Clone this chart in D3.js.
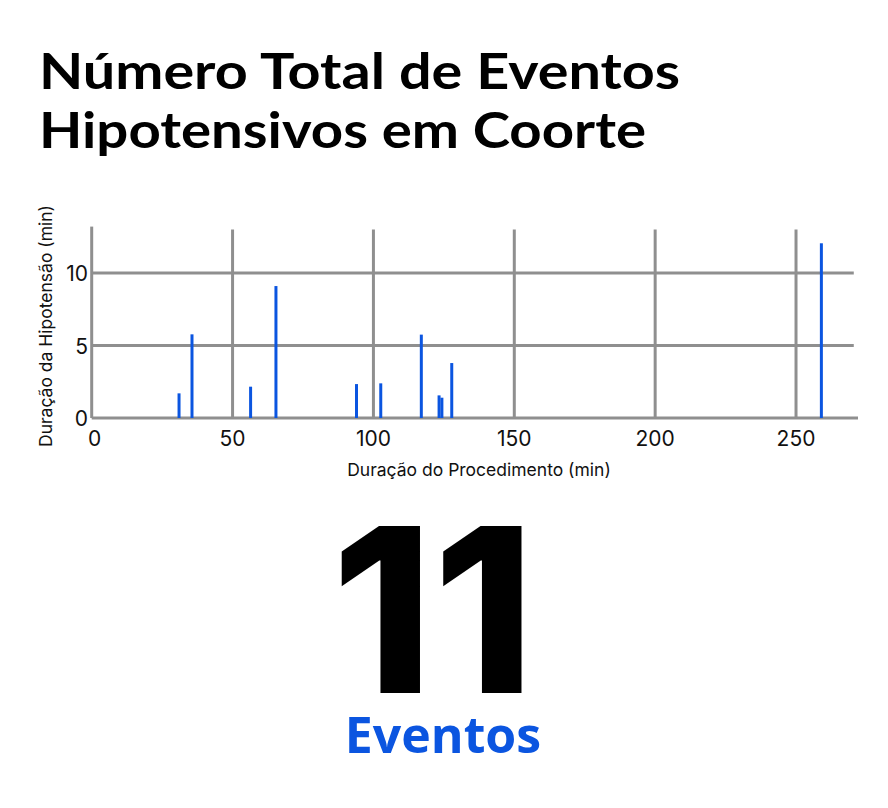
<!DOCTYPE html>
<html>
<head>
<meta charset="utf-8">
<script src="https://cdn.jsdelivr.net/npm/d3@7"></script>
<style>
	body { margin: 0; background: #fff; }
	svg text { font-family: Inter, "Open Sans", sans-serif; }
</style>
</head>
<body>
<div id="chart"></div>
<script>
// procedure duration (min) of each hypotensive event and its duration (min)
const procMinutes = [31, 35.6, 56.4, 65.4, 94, 102.6, 117, 123.3, 124.3, 127.8, 259],
	hypoMinutes = [1.7, 5.77, 2.16, 9.1, 2.34, 2.39, 5.75, 1.56, 1.4, 3.79, 12.05],
	xTicks = [0, 50, 100, 150, 200, 250],
	yTicks = [0, 5, 10],
	titleLines = ["Número Total de Eventos", "Hipotensivos em Coorte"],
	totalLabel = "Eventos";

const W = 888, H = 808;

var svg = d3.select("#chart").append("svg")
	.attr("width", W)
	.attr("height", H);

// title, two lines, stretched to the width seen in the picture
svg.selectAll(".title")
	.data(titleLines)
	.enter()
	.append("text")
	.attr("class", "title")
	.attr("x", 39)
	.attr("y", (d, i) => 89 + i * 59)
	.style("font-family", "Lato, 'Open Sans', sans-serif")
	.style("font-weight", 700)
	.style("font-size", "50px")
	.attr("fill", "#000")
	.text(d => d)
	.attr("textLength", (d, i) => i === 0 ? 641 : 607)
	.attr("lengthAdjust", "spacingAndGlyphs");

var x = d3.scaleLinear().domain([0, 272]).range([91.7, 858]),
	y = d3.scaleLinear().domain([0, 13]).range([418, 229.5]);

var grid = svg.append("g").attr("class", "grid")
	.attr("stroke", "#8f8f8f")
	.attr("stroke-width", 3);

// vertical grid lines (the one at 0 acts as the y axis)
grid.selectAll(".vline")
	.data(xTicks)
	.enter()
	.append("line")
	.attr("x1", d => x(d)).attr("x2", d => x(d))
	.attr("y1", d => d === 0 ? y(13.2) : y(13))
	.attr("y2", y(0));

// horizontal grid lines (the one at 0 acts as the x axis)
grid.selectAll(".hline")
	.data(yTicks)
	.enter()
	.append("line")
	.attr("x1", x(0))
	.attr("x2", d => d === 0 ? x(272) : x(270.5))
	.attr("y1", d => y(d)).attr("y2", d => y(d));

// stems
svg.append("g")
	.selectAll("line")
	.data(procMinutes.map((p, i) => ({p: p, h: hypoMinutes[i]})))
	.enter()
	.append("line")
	.attr("x1", d => x(d.p)).attr("x2", d => x(d.p))
	.attr("y1", y(0))
	.attr("y2", d => y(d.h))
	.attr("stroke", "#0b55e0")
	.attr("stroke-width", 3);

// tick labels
svg.append("g")
	.selectAll("text")
	.data(xTicks)
	.enter()
	.append("text")
	.attr("x", d => x(d) + (d === 0 ? 3 : 0))
	.attr("y", 446)
	.attr("text-anchor", "middle")
	.style("font-size", "21px")
	.attr("fill", "#111")
	.text(d => d);

svg.append("g")
	.selectAll("text")
	.data(yTicks)
	.enter()
	.append("text")
	.attr("x", 88)
	.attr("y", d => y(d) + 8)
	.attr("text-anchor", "end")
	.style("font-size", "21px")
	.attr("fill", "#111")
	.text(d => d);

// axis titles
svg.append("text")
	.attr("x", 479)
	.attr("y", 476)
	.attr("text-anchor", "middle")
	.style("font-size", "17.5px")
	.attr("fill", "#111")
	.text("Duração do Procedimento (min)");

svg.append("text")
	.attr("transform", "translate(52,326) rotate(-90)")
	.attr("text-anchor", "middle")
	.style("font-size", "17.5px")
	.attr("fill", "#111")
	.text("Duração da Hipotensão (min)");

// big total
svg.append("text")
	.attr("x", 433)
	.attr("y", 693)
	.attr("text-anchor", "middle")
	.style("font-weight", 800)
	.style("font-size", "230px")
	.attr("fill", "#000")
	.text(procMinutes.length);

svg.append("text")
	.attr("x", 443)
	.attr("y", 753)
	.attr("text-anchor", "middle")
	.style("font-family", "'Open Sans', sans-serif")
	.style("font-weight", 700)
	.style("font-size", "50px")
	.attr("fill", "#0b55e0")
	.text(totalLabel);
</script>
</body>
</html>
